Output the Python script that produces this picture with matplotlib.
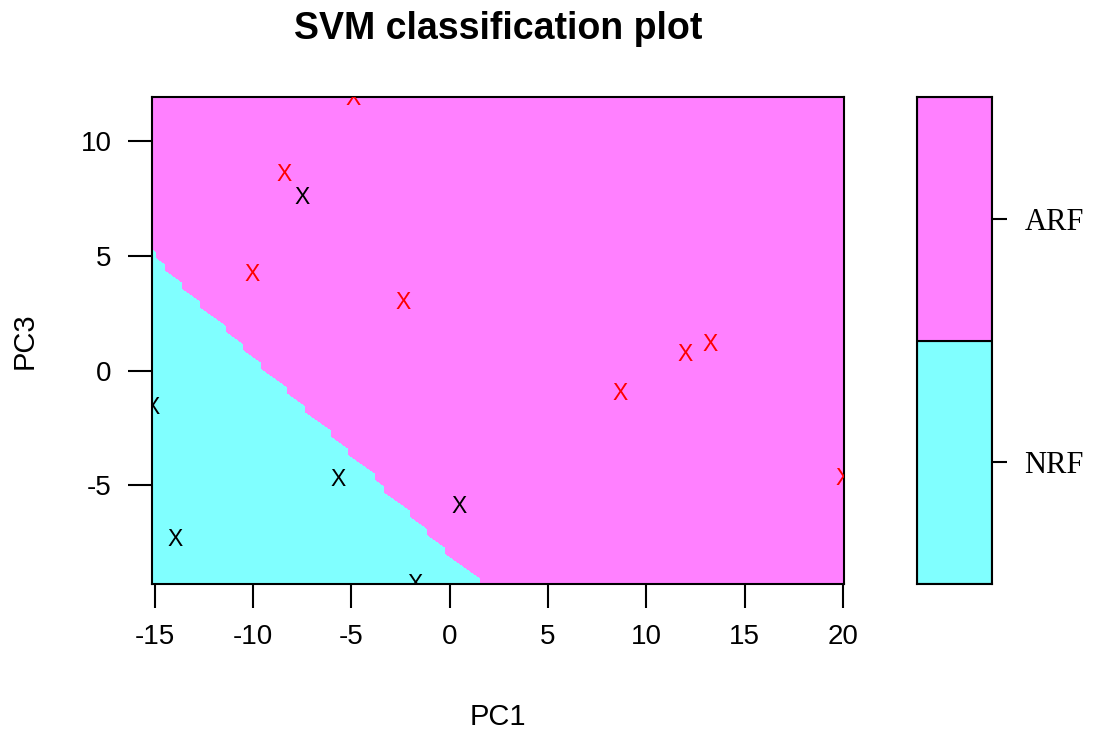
import numpy as np
import matplotlib.pyplot as plt

# support vectors (PC1, PC3)
arf_pc1 = [-4.93, -8.44, -10.07, -2.39, 12.0, 13.23, 8.65, 20.0]
arf_pc3 = [11.87, 8.52, 4.17, 2.96, 0.7, 1.13, -1.0, -4.7]
nrf_pc1 = [-7.52, -15.15, -5.69, 0.46, -13.98, -1.78]
nrf_pc3 = [7.52, -1.6, -4.74, -5.91, -7.35, -9.3]

# decision boundary
bnd_x = [-15.2, -14.4, -13.1, -10.8, -9.4, -8.0, -5.7, -4.3, -2.9, -1.4, 0.0, 1.4, 1.45]
bnd_y = [5.35, 4.5, 3.2, 1.4, 0.1, -1.1, -3.0, -4.2, -5.5, -6.7, -8.0, -8.8, -9.4]

classes = ['NRF', 'ARF']
class_cols = ['#80FFFF', '#FF80FF']

xlim = (-15.15, 20.05)
ylim = (-9.3, 11.9)

plt.rcParams['font.family'] = 'Liberation Sans'
plt.rcParams['axes.unicode_minus'] = False
fig = plt.figure(figsize=(10.93, 7.32), dpi=100)
ax = fig.add_axes([0.139, 0.202, 0.633, 0.665])

# decision region on a grid
gx = np.linspace(xlim[0], xlim[1], 80)
gy = np.linspace(ylim[0], ylim[1], 80)
GX, GY = np.meshgrid(gx, gy)
Z = (GY > np.interp(GX, bnd_x, bnd_y)).astype(float)
ax.contourf(GX, GY, Z, levels=[-0.5, 0.5, 1.5], colors=class_cols)

for x, y in zip(arf_pc1, arf_pc3):
    ax.text(x, y, 'X', color='red', fontsize=16.5, ha='center', va='center', clip_on=True)
for x, y in zip(nrf_pc1, nrf_pc3):
    ax.text(x, y, 'X', color='black', fontsize=16.5, ha='center', va='center', clip_on=True)

ax.set_xlim(xlim)
ax.set_ylim(ylim)
ax.set_xticks([-15, -10, -5, 0, 5, 10, 15, 20])
ax.set_yticks([-5, 0, 5, 10])
ax.tick_params(length=17, width=1.5, pad=12, labelsize=20)
for s in ax.spines.values():
    s.set_linewidth(1.5)
ax.set_xlabel('PC1', fontsize=21, labelpad=38)
ax.set_ylabel('PC3', fontsize=21, labelpad=30)
ax.set_title('SVM classification plot', fontsize=27, fontweight='bold', pad=42)

# key
kax = fig.add_axes([0.839, 0.202, 0.069, 0.665])
kax.bar([0, 0], [1, 1], bottom=[0, 1], width=1, color=class_cols,
        edgecolor='black', linewidth=1.5)
kax.set_xlim(-0.5, 0.5)
kax.set_ylim(0, 2)
kax.set_xticks([])
kax.yaxis.tick_right()
kax.set_yticks([0.5, 1.5])
kax.set_yticklabels(classes, fontfamily='Liberation Serif', fontsize=22)
kax.tick_params(length=11, width=1.5, pad=12)
for s in kax.spines.values():
    s.set_linewidth(1.5)

fig.savefig('out.png', dpi=100)
